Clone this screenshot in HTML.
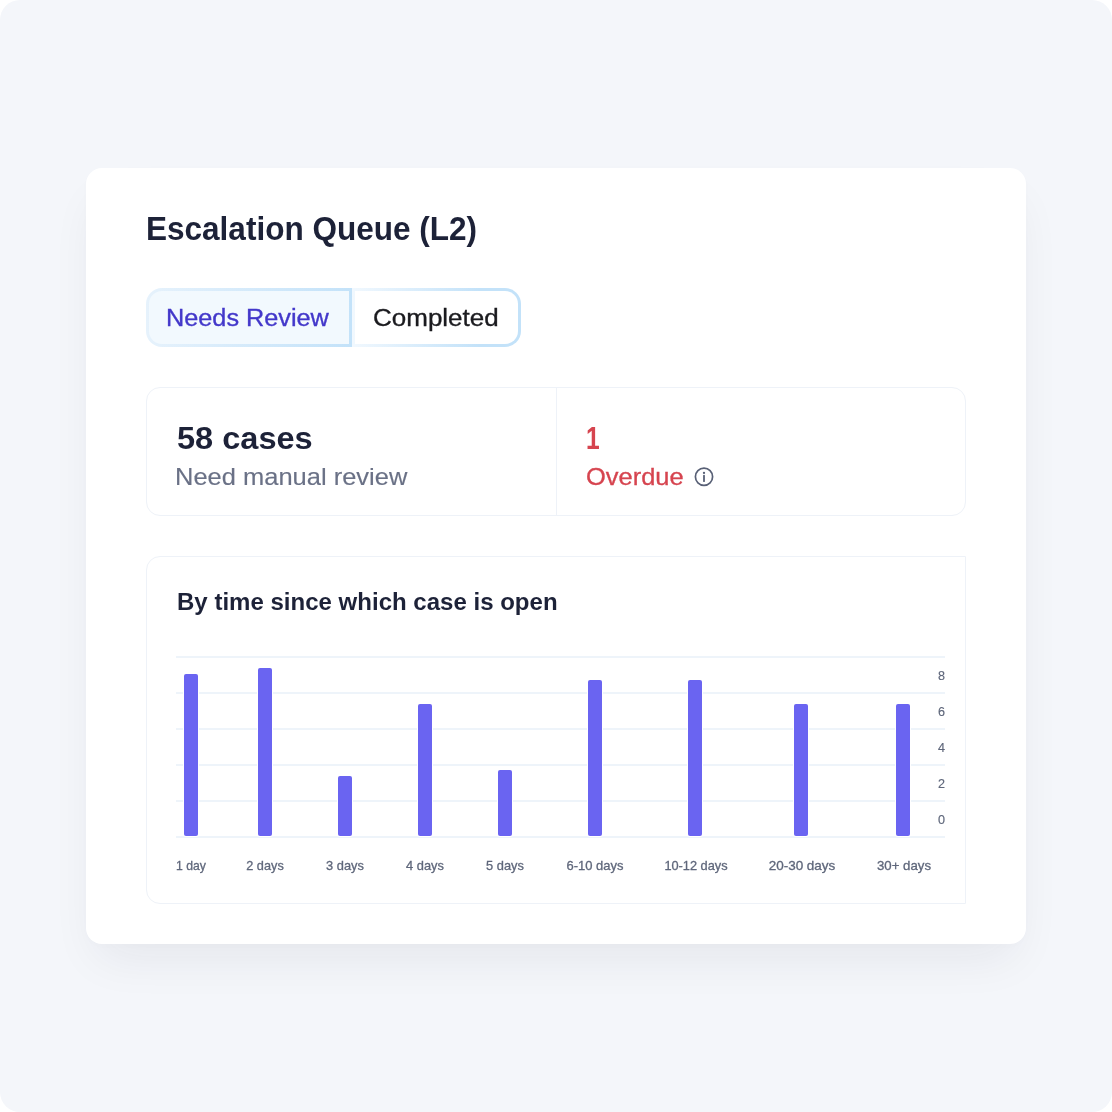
<!DOCTYPE html>
<html lang="en">
<head>
<meta charset="utf-8">
<title>Escalation Queue (L2)</title>
<style>
*{box-sizing:border-box;margin:0;padding:0}
html,body{width:1112px;height:1112px;background:#fff;overflow:hidden}
body{font-family:"Liberation Sans",Arial,sans-serif;color:#1d2238;-webkit-font-smoothing:antialiased}
.stage{position:absolute;left:0;top:0;width:1112px;height:1112px;background:#f4f6fa;border-radius:20px;overflow:hidden}
.card{position:absolute;left:86px;top:168px;width:940px;height:776px;background:#fff;border-radius:16px;
 box-shadow:0 24px 48px -12px rgba(28,32,48,.075),0 2px 10px rgba(28,32,48,.01)}
.abs{position:absolute;white-space:nowrap;line-height:1;transform-origin:0 50%}
h1.title{position:absolute;transform-origin:0 50%;transform:scaleX(.944);left:146px;top:209px;font-size:33.4px;font-weight:700;line-height:40px;white-space:nowrap;color:#1d2238}
.tabs{position:absolute;left:146px;top:288px;width:375px;height:59px}
.tab{position:absolute;top:0;height:59px;white-space:nowrap}
.tab i{position:absolute;left:3px;top:3px;right:3px;bottom:3px;display:block}
.tab span{position:absolute;top:0;line-height:60px;font-size:24.6px;font-style:normal;display:inline-block;transform-origin:0 50%;-webkit-text-stroke:.35px currentColor}
.tab.on{left:0;width:206px;border-radius:16px 0 0 16px;background:linear-gradient(90deg,#e6f2fc 0%,#c3e2f9 100%);color:#4338ca}
.tab.on i{background:#f2f9fe;border-radius:13px 0 0 13px}
.tab.off{left:206px;width:169px;border-radius:0 16px 16px 0;background:linear-gradient(90deg,#f1f8fe 0%,#c3e2f9 75%);color:#1b1b1f}
.tab.off i{background:#fff;border-radius:0 13px 13px 0}
.stats{position:absolute;left:146px;top:387px;width:820px;height:129px;border:1px solid #eef2f8;border-radius:14px;background:#fff}
.stats .div{position:absolute;left:409px;top:0;width:1px;height:127px;background:#eef2f8}
.chart{position:absolute;left:146px;top:556px;width:820px;height:348px;border:1px solid #eef2f8;border-radius:14px 0 0 14px;background:#fff}
.grid{position:absolute;left:176px;width:769px;height:2px;background:#eef4fa}
.bar{position:absolute;width:14px;background:#6a64f1;border-radius:2px;box-shadow:0 0 0 1px #fff}
.xl{-webkit-text-stroke:.3px #5f677b;position:absolute;top:858px;font-size:12.6px;line-height:16px;color:#5f677b;white-space:nowrap;transform:translateX(-50%);font-weight:400}
.yl{-webkit-text-stroke:.15px #5f677b;position:absolute;right:167px;font-size:12.6px;line-height:16px;color:#5f677b;white-space:nowrap;text-align:right}
</style>
</head>
<body>
<div class="stage">
 <div class="card"></div>
 <h1 class="title">Escalation Queue (L2)</h1>

 <div class="tabs">
  <div class="tab on"><i></i><span style="left:20.4px;transform:scaleX(1.027)">Needs Review</span></div>
  <div class="tab off"><i></i><span style="left:20.6px;transform:scaleX(1.057)">Completed</span></div>
 </div>

 <div class="stats"><div class="div"></div></div>
 <div class="abs" id="s1" style="transform:scaleX(1.033);left:177px;top:420px;font-size:31.5px;font-weight:700;line-height:36px;color:#1d2238">58 cases</div>
 <div class="abs" id="s2" style="-webkit-text-stroke:.15px #6a7186;transform:scaleX(1.062);left:175.3px;top:462px;font-size:24px;line-height:30px;color:#6a7186">Need manual review</div>
 <div class="abs" id="s3" style="transform:scaleX(.78);left:586px;top:420px;font-size:31.5px;font-weight:700;line-height:36px;color:#d6444f">1</div>
 <div class="abs" id="s4" style="-webkit-text-stroke:.3px #d6444f;transform:scaleX(1.061);left:586.3px;top:462px;font-size:24px;line-height:30px;color:#d6444f">Overdue</div>
 <svg class="abs" style="left:692.6px;top:465.9px" width="22" height="22" viewBox="0 0 22 22" fill="none">
  <circle cx="11" cy="10.8" r="8.6" stroke="#586076" stroke-width="1.7"/>
  <circle cx="11" cy="6.9" r="1.15" fill="#586076"/>
  <path d="M11 9.6v5.6" stroke="#586076" stroke-width="1.8" stroke-linecap="round"/>
 </svg>

 <div class="chart"></div>
 <div class="abs" id="ct" style="transform:scaleX(.977);left:176.5px;top:586px;font-size:24.6px;font-weight:700;line-height:32px;color:#1d2238">By time since which case is open</div>

 <div class="grid" style="top:656px"></div>
 <div class="grid" style="top:692px"></div>
 <div class="grid" style="top:728px"></div>
 <div class="grid" style="top:764px"></div>
 <div class="grid" style="top:800px"></div>
 <div class="grid" style="top:836px"></div>

 <div class="bar" style="left:184px;top:674px;height:162px"></div>
 <div class="bar" style="left:258px;top:668px;height:168px"></div>
 <div class="bar" style="left:338px;top:776px;height:60px"></div>
 <div class="bar" style="left:418px;top:704px;height:132px"></div>
 <div class="bar" style="left:498px;top:770px;height:66px"></div>
 <div class="bar" style="left:588px;top:680px;height:156px"></div>
 <div class="bar" style="left:688px;top:680px;height:156px"></div>
 <div class="bar" style="left:794px;top:704px;height:132px"></div>
 <div class="bar" style="left:896px;top:704px;height:132px"></div>

 <div class="yl" style="top:668px">8</div>
 <div class="yl" style="top:704px">6</div>
 <div class="yl" style="top:740px">4</div>
 <div class="yl" style="top:776px">2</div>
 <div class="yl" style="top:812px">0</div>

 <div class="xl" style="left:190.6px;transform:translateX(-50%) scaleX(.97)">1 day</div>
 <div class="xl" style="left:265.2px;transform:translateX(-50%) scaleX(1.01)">2 days</div>
 <div class="xl" style="left:345.3px;transform:translateX(-50%) scaleX(1.02)">3 days</div>
 <div class="xl" style="left:425.4px;transform:translateX(-50%) scaleX(1.02)">4 days</div>
 <div class="xl" style="left:505.2px;transform:translateX(-50%) scaleX(1.02)">5 days</div>
 <div class="xl" style="left:594.8px;transform:translateX(-50%) scaleX(1.03)">6-10 days</div>
 <div class="xl" style="left:695.5px;transform:translateX(-50%) scaleX(1.015)">10-12 days</div>
 <div class="xl" style="left:801.7px;transform:translateX(-50%) scaleX(1.07)">20-30 days</div>
 <div class="xl" style="left:903.5px;transform:translateX(-50%) scaleX(1.05)">30+ days</div>
</div>
</body>
</html>
